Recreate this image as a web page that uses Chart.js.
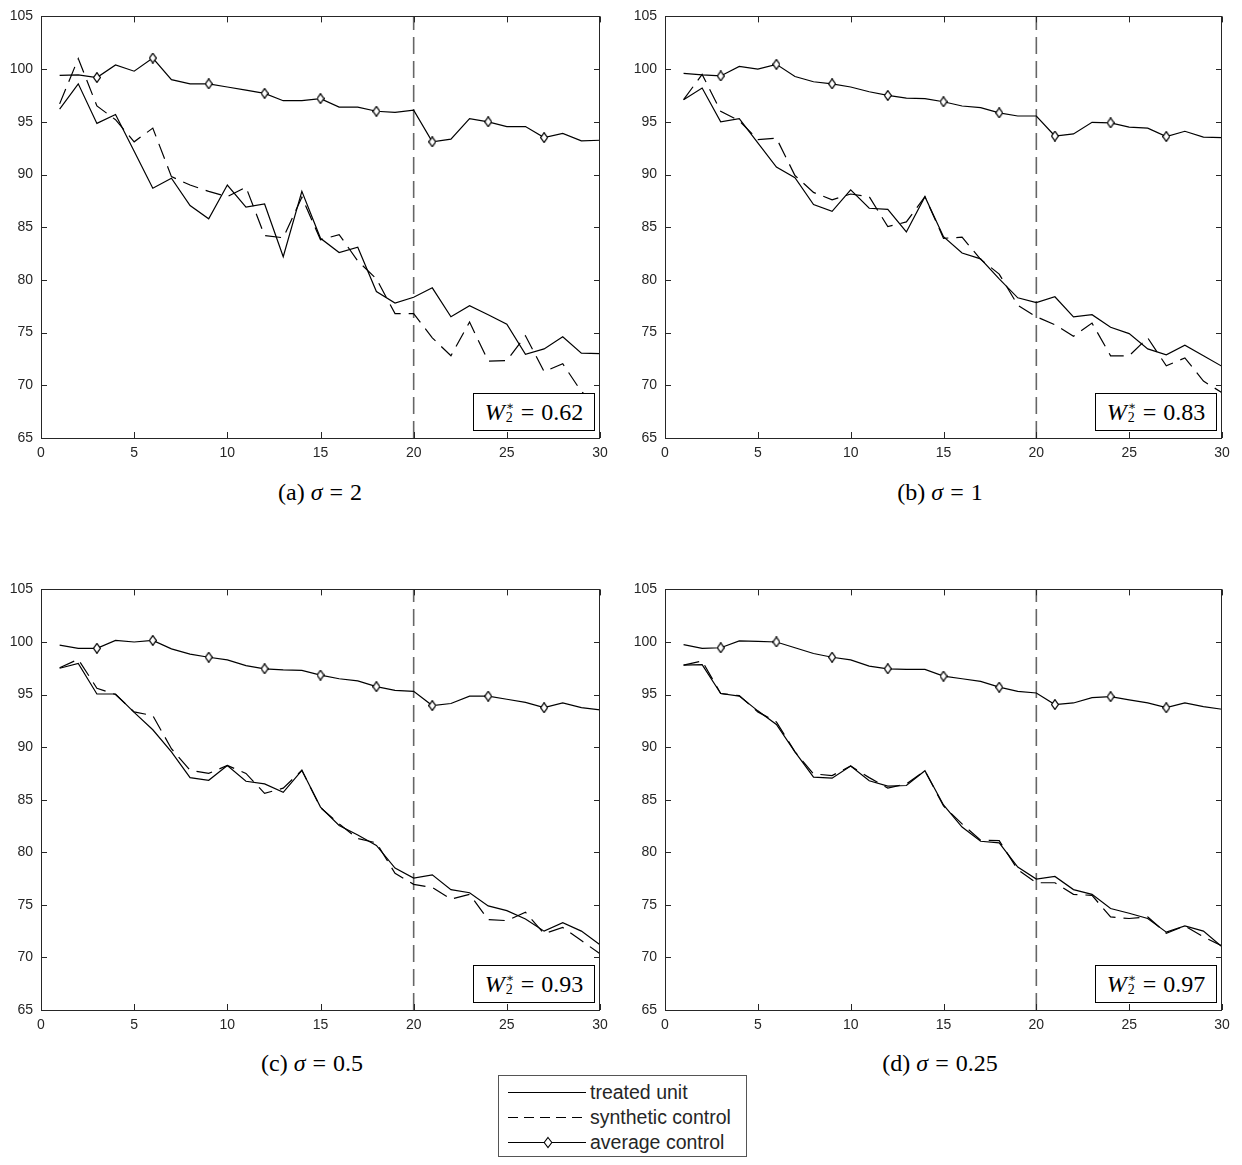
<!DOCTYPE html>
<html lang="en">
<head>
<meta charset="UTF-8">
<title>Synthetic control vs sigma</title>
<script src="https://cdn.jsdelivr.net/npm/chart.js"></script>
<style>
  body { margin: 0; background: #fff; }
  #page { position: relative; width: 1242px; height: 1165px; overflow: hidden; background: #fff; }
  canvas { position: absolute; }
  .cap { position: absolute; font-family: "Liberation Serif", serif; font-size: 24px; color: #000;
         transform: translate(-50%, -50%); white-space: nowrap; }
  .eq { margin: 0 7px; }
  .wbox { position: absolute; box-sizing: border-box; width: 122px; height: 38px; background: #fff;
          border: 1px solid #000; font-family: "Liberation Serif", serif; font-size: 24px; color: #000;
          display: flex; align-items: center; justify-content: center; white-space: nowrap; }
  .ss { display: inline-flex; flex-direction: column; align-items: flex-start; font-size: 14px; line-height: 11px;
        vertical-align: -6px; margin-left: 1px; }
  .ss .ast { font-family: "DejaVu Serif", serif; font-size: 12px; color: #000; }
  #legenda { position: absolute; left: 498px; top: 1075px; width: 249px; height: 82px; box-sizing: border-box;
             border: 1px solid #555; background: #fff; }
  #legenda svg { position: absolute; left: 0; top: 0; }
  #legenda .txt { position: absolute; left: 91px; font-family: "Liberation Sans", Arial, sans-serif;
                  font-size: 19.5px; line-height: 20px; color: #262626; transform: translateY(-50%); white-space: nowrap; }
</style>
</head>
<body>
<div id="page">
  <canvas id="pa"></canvas>
  <canvas id="pb"></canvas>
  <canvas id="pc"></canvas>
  <canvas id="pd"></canvas>

  <div class="cap" style="left:320px; top:492px">(a)&nbsp;<i>σ</i><span class="eq">=</span>2</div>
  <div class="cap" style="left:940px; top:492px">(b)&nbsp;<i>σ</i><span class="eq">=</span>1</div>
  <div class="cap" style="left:312px; top:1063px">(c)&nbsp;<i>σ</i><span class="eq">=</span>0.5</div>
  <div class="cap" style="left:940px; top:1063px">(d)&nbsp;<i>σ</i><span class="eq">=</span>0.25</div>

  <div id="legenda">
    <svg width="249" height="82">
      <line x1="9" y1="16.5" x2="87" y2="16.5" stroke="#000" stroke-width="1.2"/>
      <line x1="9" y1="41.5" x2="87" y2="41.5" stroke="#000" stroke-width="1.2" stroke-dasharray="10 6"/>
      <line x1="9" y1="66.5" x2="87" y2="66.5" stroke="#000" stroke-width="1.2"/>
      <polygon points="49,61.5 52.8,66.5 49,71.5 45.2,66.5" fill="#fff" stroke="#000" stroke-width="1.1"/>
    </svg>
    <span class="txt" style="top:16px">treated unit</span>
    <span class="txt" style="top:41px">synthetic control</span>
    <span class="txt" style="top:66px">average control</span>
  </div>
</div>

<script>
  // periods on the x axis
  const periodos = [1, 2, 3, 4, 5, 6, 7, 8, 9, 10, 11, 12, 13, 14, 15,
                    16, 17, 18, 19, 20, 21, 22, 23, 24, 25, 26, 27, 28, 29, 30];
  const tratamento = 20;
  const yTicks = [65, 70, 75, 80, 85, 90, 95, 100, 105];
  const xTicks = [0, 5, 10, 15, 20, 25, 30];

  // (a) sigma = 2
  const treatedA = [96.2, 98.6, 94.85, 95.7, 92.2, 88.7, 89.65, 87.05, 85.8, 89.0, 86.9, 87.2, 82.2, 88.4, 83.95,
                    82.6, 83.1, 78.9, 77.8, 78.35, 79.25, 76.5, 77.55, 76.7, 75.8, 72.95, 73.45, 74.6, 73.05, 73.0];
  const synthA   = [96.7, 101.0, 96.5, 95.2, 93.1, 94.4, 89.8, 89.0, 88.4, 87.9, 88.8, 84.2, 84.0, 87.85, 83.8,
                    84.3, 81.8, 80.1, 76.8, 76.8, 74.5, 72.8, 76.0, 72.3, 72.35, 74.7, 71.3, 72.05, 69.4, 68.0];
  const avgA     = [99.4, 99.45, 99.2, 100.4, 99.8, 101.05, 99.0, 98.6, 98.6, 98.3, 98.0, 97.7, 97.0, 97.0, 97.2,
                    96.4, 96.4, 96.0, 95.9, 96.1, 93.1, 93.35, 95.3, 95.0, 94.55, 94.55, 93.5, 93.9, 93.2, 93.25];

  // (b) sigma = 1
  const treatedB = [97.1, 98.2, 95.0, 95.3, 93.0, 90.7, 89.7, 87.15, 86.5, 88.55, 86.8, 86.7, 84.55, 87.9, 84.1,
                    82.55, 82.0, 80.1, 78.3, 77.85, 78.4, 76.5, 76.7, 75.5, 74.9, 73.45, 72.9, 73.8, 72.8, 71.8];
  const synthB   = [97.1, 99.5, 96.0, 95.1, 93.3, 93.45, 89.9, 88.3, 87.6, 88.15, 87.9, 85.05, 85.5, 87.9, 83.95,
                    84.05, 81.95, 80.55, 77.6, 76.5, 75.75, 74.65, 75.9, 72.8, 72.8, 74.5, 71.85, 72.6, 70.4, 69.3];
  const avgB     = [99.6, 99.45, 99.35, 100.25, 100.0, 100.45, 99.3, 98.8, 98.6, 98.3, 97.85, 97.5, 97.25, 97.2, 96.9,
                    96.5, 96.35, 95.85, 95.55, 95.55, 93.65, 93.85, 94.95, 94.9, 94.5, 94.4, 93.6, 94.1, 93.55, 93.5];

  // (c) sigma = 0.5
  const treatedC = [97.5, 97.95, 95.05, 95.05, 93.3, 91.65, 89.55, 87.1, 86.85, 88.25, 86.75, 86.5, 85.7, 87.8, 84.3,
                    82.55, 81.65, 80.65, 78.5, 77.55, 77.85, 76.45, 76.15, 74.9, 74.45, 73.65, 72.5, 73.3, 72.5, 71.2];
  const synthC   = [97.55, 98.35, 95.6, 95.0, 93.35, 93.0, 89.85, 87.8, 87.5, 88.25, 87.5, 85.6, 86.1, 87.8, 84.25,
                    82.7, 81.3, 80.9, 78.0, 76.95, 76.65, 75.55, 76.0, 73.6, 73.5, 74.3, 72.25, 72.85, 71.6, 70.35];
  const avgC     = [99.7, 99.4, 99.4, 100.15, 100.0, 100.15, 99.35, 98.85, 98.55, 98.3, 97.75, 97.45, 97.35, 97.3, 96.85,
                    96.5, 96.3, 95.75, 95.4, 95.3, 93.95, 94.15, 94.85, 94.85, 94.55, 94.25, 93.75, 94.2, 93.75, 93.55];

  // (d) sigma = 0.25
  const treatedD = [97.8, 97.85, 95.1, 94.85, 93.45, 92.15, 89.55, 87.15, 87.05, 88.2, 86.8, 86.3, 86.35, 87.75, 84.5,
                    82.4, 81.05, 80.9, 78.6, 77.45, 77.7, 76.45, 76.0, 74.65, 74.2, 73.7, 72.4, 73.0, 72.5, 71.0];
  const synthD   = [97.8, 98.2, 95.1, 94.9, 93.35, 92.4, 89.55, 87.45, 87.3, 88.2, 87.1, 86.1, 86.5, 87.75, 84.4,
                    82.7, 81.15, 81.1, 78.35, 77.1, 77.1, 76.0, 75.9, 73.85, 73.7, 73.85, 72.3, 73.0, 71.95, 71.1];
  const avgD     = [99.75, 99.4, 99.45, 100.1, 100.05, 100.0, 99.45, 98.9, 98.55, 98.3, 97.7, 97.45, 97.4, 97.4, 96.75,
                    96.5, 96.25, 95.7, 95.3, 95.15, 94.05, 94.2, 94.7, 94.8, 94.5, 94.2, 93.75, 94.2, 93.85, 93.6];

  const w2 = ['0.62', '0.83', '0.93', '0.97'];
  const marcaCada = 3; // diamond on every 3rd period

  // diamond marker (MATLAB 'd')
  function diamante(w, h) {
    const c = document.createElement('canvas');
    c.width = w; c.height = h;
    const g = c.getContext('2d');
    g.beginPath();
    g.moveTo(w / 2, 0.6); g.lineTo(w - 0.6, h / 2); g.lineTo(w / 2, h - 0.6); g.lineTo(0.6, h / 2);
    g.closePath();
    g.fillStyle = '#fff'; g.fill();
    g.strokeStyle = '#000'; g.lineWidth = 1.2; g.stroke();
    return c;
  }
  const marca = diamante(8, 11);

  function pontos(vals) {
    return vals.map((v, i) => ({ x: periodos[i], y: v }));
  }

  // box + inward ticks on all four sides
  const moldura = {
    id: 'moldura',
    afterDatasetsDraw(chart) {
      const { ctx, chartArea: a, scales: { x, y } } = chart;
      ctx.save();
      ctx.strokeStyle = '#262626';
      ctx.lineWidth = 1;
      ctx.beginPath();
      x.ticks.forEach(t => {
        const px = Math.round(x.getPixelForValue(t.value)) + 0.5;
        ctx.moveTo(px, a.bottom); ctx.lineTo(px, a.bottom - 6);
        ctx.moveTo(px, a.top); ctx.lineTo(px, a.top + 6);
      });
      y.ticks.forEach(t => {
        const py = Math.round(y.getPixelForValue(t.value)) + 0.5;
        ctx.moveTo(a.left, py); ctx.lineTo(a.left + 6, py);
        ctx.moveTo(a.right, py); ctx.lineTo(a.right - 6, py);
      });
      ctx.stroke();
      ctx.strokeRect(Math.round(a.left) + 0.5, Math.round(a.top) + 0.5,
                     Math.round(a.width) - 1, Math.round(a.height));
      ctx.restore();
    }
  };

  // plot-area positions on the page
  const lugar = [
    { id: 'pa', left: 41, top: 10, w: 559, h: 428 },
    { id: 'pb', left: 665, top: 10, w: 557, h: 428 },
    { id: 'pc', left: 41, top: 583, w: 559, h: 427 },
    { id: 'pd', left: 665, top: 583, w: 557, h: 427 }
  ];
  const series = [
    [treatedA, synthA, avgA],
    [treatedB, synthB, avgB],
    [treatedC, synthC, avgC],
    [treatedD, synthD, avgD]
  ];

  const fonteEixo = { family: '"Liberation Sans", Arial, sans-serif', size: 14 };

  function painel(k) {
    const p = lugar[k];
    const [tr, sy, av] = series[k];
    const cv = document.getElementById(p.id);
    const W = p.w + 41 + 15, H = p.h + 10 + 32;
    cv.width = W; cv.height = H;
    cv.style.left = (p.left - 41) + 'px';
    cv.style.top = (p.top - 10) + 'px';
    cv.style.width = W + 'px'; cv.style.height = H + 'px';

    const chart = new Chart(cv, {
      type: 'line',
      data: {
        datasets: [
          {
            label: 'average control', data: pontos(av), borderColor: '#000', borderWidth: 1.2,
            pointStyle: marca,
            pointRadius: c => (c.raw.x % marcaCada === 0 && c.raw.x < 30) ? 4 : 0,
            tension: 0
          },
          {
            label: 'treated unit', data: pontos(tr), borderColor: '#000', borderWidth: 1.2,
            pointRadius: 0, tension: 0
          },
          {
            label: 'synthetic control', data: pontos(sy), borderColor: '#000', borderWidth: 1.2,
            borderDash: [16, 8], pointRadius: 0, tension: 0
          },
          {
            label: 'treatment', data: [{ x: tratamento, y: yTicks[0] }, { x: tratamento, y: yTicks[yTicks.length - 1] }],
            borderColor: '#666', borderWidth: 1.6, borderDash: [17, 7], pointRadius: 0
          }
        ]
      },
      options: {
        responsive: false,
        animation: false,
        devicePixelRatio: 1,
        layout: { padding: { top: 10, right: 15, left: 0, bottom: 0 } },
        plugins: { legend: { display: false }, tooltip: { enabled: false } },
        scales: {
          x: {
            type: 'linear', min: xTicks[0], max: xTicks[xTicks.length - 1],
            afterBuildTicks: s => { s.ticks = xTicks.map(v => ({ value: v })); },
            ticks: { font: fonteEixo, color: '#262626', padding: 7, maxRotation: 0 },
            grid: { display: false, drawTicks: false },
            border: { display: false },
            afterFit: s => { s.height = 32; }
          },
          y: {
            type: 'linear', min: yTicks[0], max: yTicks[yTicks.length - 1],
            afterBuildTicks: s => { s.ticks = yTicks.map(v => ({ value: v })); },
            ticks: { font: fonteEixo, color: '#262626', padding: 8 },
            grid: { display: false, drawTicks: false },
            border: { display: false },
            afterFit: s => { s.width = 41; }
          }
        }
      },
      plugins: [moldura]
    });

    // W2* box, anchored to the bottom-right corner of the plot area
    const a = chart.chartArea;
    const box = document.createElement('div');
    box.className = 'wbox';
    box.innerHTML = '<i>W</i><span class="ss"><span class="ast">∗</span><span>2</span></span><span class="eq">=</span>' + w2[k];
    box.style.left = (p.left - 41 + a.right - 5 - 122) + 'px';
    box.style.top = (p.top - 10 + a.bottom - 7 - 38) + 'px';
    document.getElementById('page').appendChild(box);
  }

  for (let k = 0; k < 4; k++) painel(k);
</script>
</body>
</html>
